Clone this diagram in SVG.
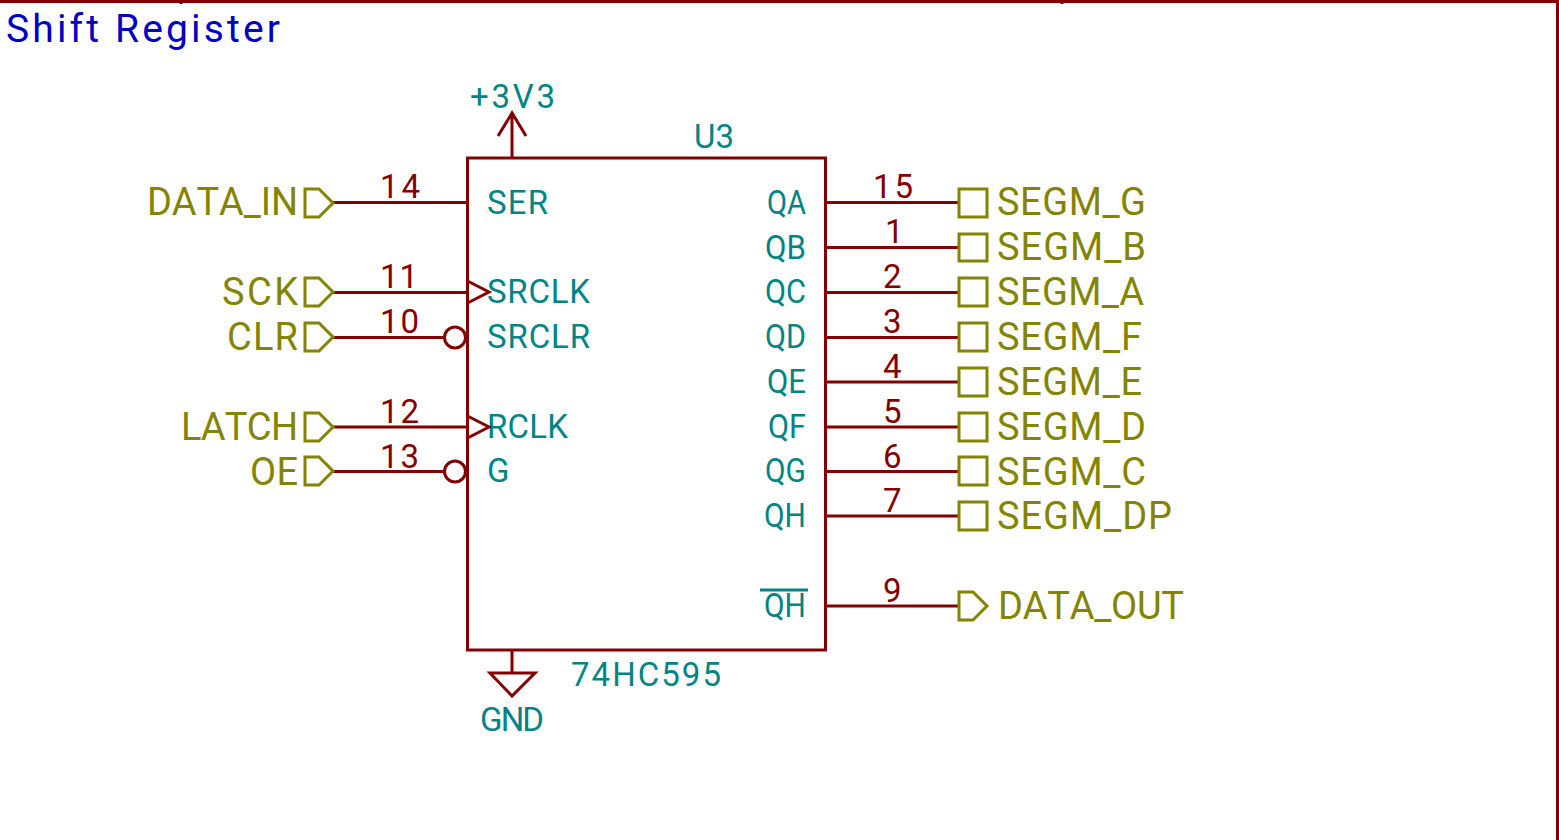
<svg xmlns="http://www.w3.org/2000/svg" width="1559" height="840" viewBox="0 0 1559 840">
<style>
text{font-family:Roboto,"Liberation Sans",sans-serif;font-size:33px;font-kerning:none}
.g{fill:#008484}.o{fill:#848400;font-size:38px}.r{fill:#840000}.b{fill:#0000c2;font-size:39px}
.w{stroke:#840000;stroke-width:3;fill:none}
.l{stroke:#848400;stroke-width:3;fill:none}
</style>
<rect width="1559" height="840" fill="#fff"/>
<path class="w" d="M0 1.500H1559M1557.500 0V840M181 1V4M1062 1V4"/>
<text id="title" class="b" x="6" y="42" textLength="274">Shift Register</text>
<g id="U3">
<rect class="w" x="467.500" y="158" width="358" height="492"/>
<text class="g" x="694" y="148" textLength="40">U3</text>
<text class="g" x="571" y="686" textLength="150">74HC595</text>
<text class="g" x="487" y="214" textLength="61">SER</text>
<text class="g" x="487" y="303" textLength="103">SRCLK</text>
<text class="g" x="487" y="348" textLength="103">SRCLR</text>
<text class="g" x="487" y="438" textLength="81">RCLK</text>
<text class="g" x="487" y="482" textLength="18">G</text>
<text class="g" x="767" y="214" textLength="39" lengthAdjust="spacingAndGlyphs">QA</text>
<text class="g" x="765" y="259" textLength="41" lengthAdjust="spacingAndGlyphs">QB</text>
<text class="g" x="765" y="303" textLength="41" lengthAdjust="spacingAndGlyphs">QC</text>
<text class="g" x="765" y="348" textLength="41" lengthAdjust="spacingAndGlyphs">QD</text>
<text class="g" x="767" y="393" textLength="39" lengthAdjust="spacingAndGlyphs">QE</text>
<text class="g" x="768" y="438" textLength="38" lengthAdjust="spacingAndGlyphs">QF</text>
<text class="g" x="765" y="482" textLength="41" lengthAdjust="spacingAndGlyphs">QG</text>
<text class="g" x="764" y="527" textLength="42" lengthAdjust="spacingAndGlyphs">QH</text>
<text class="g" x="764" y="617" textLength="42" lengthAdjust="spacingAndGlyphs">QH</text>
<path d="M760 590H808" stroke="#008484" stroke-width="3"/>
<path class="w" d="M467.500 281L489 292L467.500 303M467.500 416L489 427L467.500 438"/>
<circle class="w" cx="455" cy="337.500" r="10.500"/>
<circle class="w" cx="455" cy="471.500" r="10.500"/>
</g>
<g id="connectors">
<path class="w" d="M333 202.500H467M333 292.500H467M333 337.500H445M333 427H467M333 471.500H445M826 202.500H959M826 247.500H959M826 292.500H959M826 337.500H959M826 382H959M826 427H959M826 471.500H959M826 516H959M826 606H959M512 158V113M498 136L512 113L526 136M512 650V673M490 673H535L512 696Z"/>
</g>
<g id="pwr"><text class="g" x="470" y="108" textLength="85">+3V3</text><text class="g" x="480" y="731" textLength="64">GND</text></g>
<g id="pins">
<text class="r" x="380" y="198" textLength="40">14</text><text class="r" x="380" y="288" textLength="38">11</text><text class="r" x="380" y="333" textLength="39">10</text><text class="r" x="380" y="423" textLength="39">12</text><text class="r" x="380" y="468" textLength="39">13</text>
<text class="r" x="873" y="198" textLength="40">15</text><text class="r" x="885" y="243">1</text><text class="r" x="883" y="288">2</text><text class="r" x="883" y="333">3</text><text class="r" x="883" y="378">4</text><text class="r" x="883" y="423">5</text><text class="r" x="883" y="468">6</text><text class="r" x="883" y="512">7</text><text class="r" x="883" y="602">9</text>
</g>
<g id="inputs">
<path class="l" d="M305 189H319L333 203L319 217H305ZM305 278H319L333 292L319 306H305ZM305 323H319L333 337L319 351H305ZM305 413H319L333 427L319 441H305ZM305 457H319L333 471L319 485H305Z"/>
<text class="o" x="147" y="215" textLength="151">DATA_IN</text><text class="o" x="222" y="305" textLength="76">SCK</text><text class="o" x="227" y="350" textLength="71">CLR</text><text class="o" x="181" y="440" textLength="117">LATCH</text><text class="o" x="250" y="485" textLength="48">OE</text>
</g>
<g id="outputs">
<path class="l" d="M959 189H987V217H959ZM959 234H987V261H959ZM959 278H987V306H959ZM959 323H987V351H959ZM959 368H987V396H959ZM959 413H987V441H959ZM959 457H987V485H959ZM959 502H987V530H959ZM959 592H973L987 606L973 620H959Z"/>
<text class="o" x="997" y="215" textLength="149">SEGM_G</text><text class="o" x="997" y="260" textLength="149">SEGM_B</text><text class="o" x="997" y="305" textLength="147">SEGM_A</text><text class="o" x="997" y="350" textLength="145">SEGM_F</text><text class="o" x="997" y="395" textLength="145">SEGM_E</text><text class="o" x="997" y="440" textLength="149">SEGM_D</text><text class="o" x="997" y="485" textLength="149">SEGM_C</text><text class="o" x="997" y="529" textLength="175">SEGM_DP</text><text class="o" x="998" y="619" textLength="186">DATA_OUT</text>
</g>
</svg>
